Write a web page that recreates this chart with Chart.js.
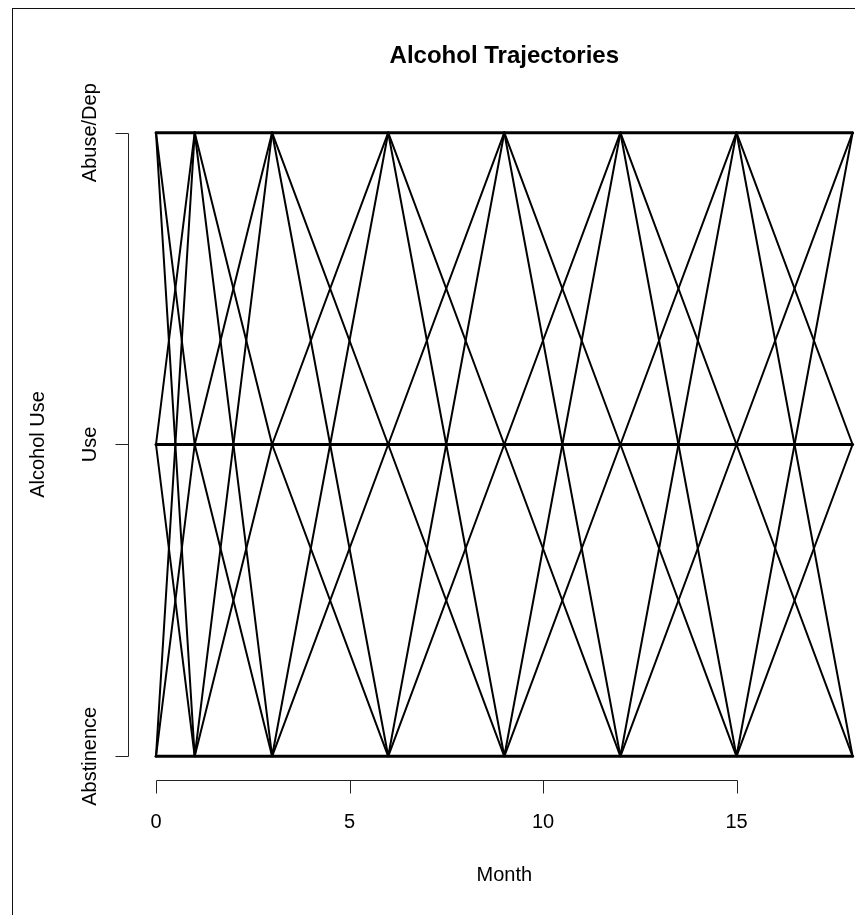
<!DOCTYPE html>
<html>
<head>
<meta charset="utf-8">
<title>Alcohol Trajectories</title>
<script src="https://cdn.jsdelivr.net/npm/chart.js@4.4.0/dist/chart.umd.min.js"></script>
<style>
    html, body { margin: 0; padding: 0; background: #fff; }
    canvas { display: block; }
</style>
</head>
<body>
<canvas id="trajChart" width="855" height="915"></canvas>
<script>
// months of follow-up
const months = [0, 1, 3, 6, 9, 12, 15, 18];
// alcohol use levels (0 = Abstinence, 1 = Use, 2 = Abuse/Dep)
const levelLabels = ['Abstinence', 'Use', 'Abuse/Dep'];
const xTicks = [0, 5, 10, 15];

// individual trajectories, one level per month
const trajectories = [
    [0, 0, 0, 0, 0, 0, 0, 0],
    [0, 1, 1, 2, 0, 2, 2, 1],
    [0, 2, 2, 1, 0, 1, 1, 2],
    [1, 0, 1, 1, 2, 0, 2, 2],
    [1, 1, 2, 0, 2, 2, 1, 0],
    [1, 2, 0, 2, 2, 1, 0, 1],
    [2, 0, 2, 2, 1, 0, 1, 1],
    [2, 1, 0, 1, 1, 2, 0, 2],
    [2, 2, 1, 0, 1, 1, 2, 0]
];

const FONT = '"Liberation Sans", Arial, Helvetica, sans-serif';

// R style detached axes, title and box
const baseGraphics = {
    id: 'baseGraphics',
    afterDraw(chart) {
        const ctx = chart.ctx;
        const xs = chart.scales.x;
        const ys = chart.scales.y;
        const area = chart.chartArea;
        const midX = (area.left + area.right) / 2;
        ctx.save();

        // outer frame
        ctx.strokeStyle = '#111';
        ctx.lineWidth = 1;
        ctx.strokeRect(12.5, 8.5, 1000, 1000);

        ctx.fillStyle = '#000';
        ctx.strokeStyle = '#222';

        // x axis
        const axY = 780.5;
        const x0 = Math.round(xs.getPixelForValue(xTicks[0])) + 0.5;
        const x1 = Math.round(xs.getPixelForValue(xTicks[xTicks.length - 1])) + 0.5;
        ctx.beginPath();
        ctx.moveTo(x0, axY);
        ctx.lineTo(x1, axY);
        xTicks.forEach(t => {
            const px = Math.round(xs.getPixelForValue(t)) + 0.5;
            ctx.moveTo(px, axY);
            ctx.lineTo(px, axY + 13);
        });
        ctx.stroke();

        ctx.font = '20px ' + FONT;
        ctx.textAlign = 'center';
        ctx.textBaseline = 'alphabetic';
        xTicks.forEach(t => {
            ctx.fillText(String(t), xs.getPixelForValue(t), 827.5);
        });

        // y axis
        const axX = 128.5;
        const yTop = Math.round(ys.getPixelForValue(levelLabels.length - 1)) + 0.5;
        const yBot = Math.round(ys.getPixelForValue(0)) + 0.5;
        ctx.beginPath();
        ctx.moveTo(axX, yTop);
        ctx.lineTo(axX, yBot);
        levelLabels.forEach((lab, i) => {
            const py = Math.round(ys.getPixelForValue(i)) + 0.5;
            ctx.moveTo(axX, py);
            ctx.lineTo(axX - 13, py);
        });
        ctx.stroke();

        levelLabels.forEach((lab, i) => {
            ctx.save();
            ctx.translate(96, ys.getPixelForValue(i));
            ctx.rotate(-Math.PI / 2);
            ctx.fillText(lab, 0, 0);
            ctx.restore();
        });

        // axis titles
        ctx.fillText('Month', midX, 880.5);
        ctx.save();
        ctx.translate(43.5, (area.top + area.bottom) / 2);
        ctx.rotate(-Math.PI / 2);
        ctx.fillText('Alcohol Use', 0, 0);
        ctx.restore();

        // main title
        ctx.font = 'bold 24px ' + FONT;
        ctx.fillText('Alcohol Trajectories', midX, 63);

        ctx.restore();
    }
};

const datasets = trajectories.map((traj, i) => ({
    label: 'Subject ' + (i + 1),
    data: traj.map((v, j) => ({ x: months[j], y: v })),
    borderColor: '#000',
    borderWidth: 2,
    borderJoinStyle: 'round',
    borderCapStyle: 'round',
    pointRadius: 0,
    tension: 0,
    fill: false,
    clip: false,
    segment: {
        borderWidth: c => (c.p0.parsed.y === c.p1.parsed.y ? 3 : 2)
    }
}));

const trajCtx = document.getElementById('trajChart').getContext('2d');
const trajChart = new Chart(trajCtx, {
    type: 'line',
    data: { datasets: datasets },
    options: {
        responsive: false,
        animation: false,
        layout: {
            padding: { left: 156, right: 2.4, top: 132.7, bottom: 158.7 }
        },
        scales: {
            x: { type: 'linear', min: 0, max: 18, display: false },
            y: { type: 'linear', min: 0, max: 2, display: false }
        },
        plugins: {
            legend: { display: false },
            title: { display: false },
            tooltip: { enabled: false }
        }
    },
    plugins: [baseGraphics]
});
</script>
</body>
</html>
